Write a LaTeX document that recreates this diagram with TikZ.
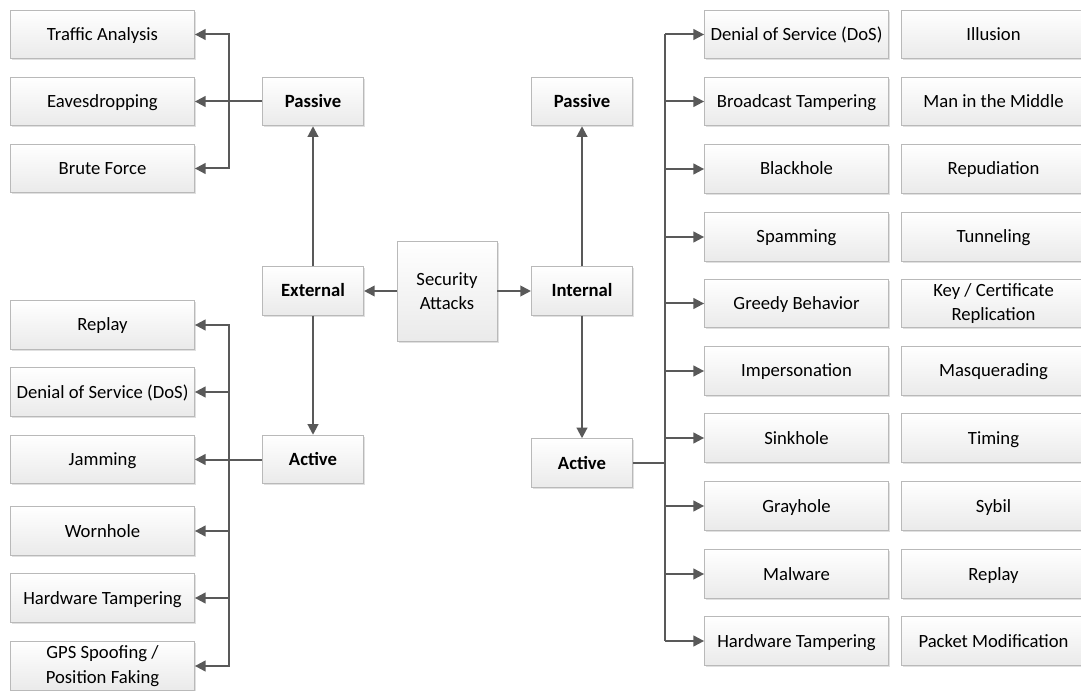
\documentclass[tikz,border=0pt]{standalone}
\usepackage{fontspec}
\setmainfont{Carlito}
\usetikzlibrary{arrows.meta,shadows}
\definecolor{linec}{RGB}{89,89,89}
\definecolor{boxb}{RGB}{185,185,185}
\definecolor{boxbot}{RGB}{234,234,234}
\tikzset{
  box/.style={draw=boxb, line width=0.6pt, top color=white, bottom color=boxbot,
    drop shadow={shadow xshift=1.2pt, shadow yshift=-1.2pt, fill=black, opacity=0.12},
    align=center, inner sep=1pt, font=\fontsize{14}{18.5}\selectfont, text=black},
  one/.style={text height=12.5pt, text depth=3.5pt},
  wide/.style={box, one, minimum width=138pt, minimum height=36.5pt},
  two/.style={box, minimum width=138pt, minimum height=36.5pt},
  mid/.style={box, one, minimum width=76pt, minimum height=36.5pt, font=\fontsize{14}{18.5}\selectfont\bfseries},
  conn/.style={draw=linec, line width=1.5pt},
  arr/.style={conn, -{Triangle[length=8pt,width=8pt]}},
  darr/.style={conn, {Triangle[length=8pt,width=8pt]}-{Triangle[length=8pt,width=8pt]}}
}
\begin{document}
\begin{tikzpicture}[x=0.75pt,y=-0.75pt]
\useasboundingbox (0,0) rectangle (1081,691);
% centre
\node[box, minimum width=75pt, minimum height=75pt] (sec) at (447,291) {Security\\Attacks};
\node[mid] (ext) at (313,291) {External};
\node[mid] (int) at (582,291) {Internal};
\node[mid] (lp) at (313,101.5) {Passive};
\node[mid] (la) at (313,459.5) {Active};
\node[mid] (rp) at (582,101.5) {Passive};
\node[mid] (ra) at (582,463) {Active};
% left passive
\node[wide] (ta) at (102.5,34.5) {Traffic Analysis};
\node[wide] (ed) at (102.5,101.5) {Eavesdropping};
\node[wide] (bf) at (102.5,168.5) {Brute Force};
% left active
\node[wide] (l1) at (102.5,325) {Replay};
\node[wide] (l2) at (102.5,392) {Denial of Service (DoS)};
\node[wide] (l3) at (102.5,459.5) {Jamming};
\node[wide] (l4) at (102.5,531) {Wornhole};
\node[wide] (l5) at (102.5,598) {Hardware Tampering};
\node[two] (l6) at (102.5,666) {GPS Spoofing /\\Position Faking};
% right column 1
\node[wide] (r1) at (796.5,34.5) {Denial of Service (DoS)};
\node[wide] (r2) at (796.5,101.5) {Broadcast Tampering};
\node[wide] (r3) at (796.5,169) {Blackhole};
\node[wide] (r4) at (796.5,237) {Spamming};
\node[wide] (r5) at (796.5,303.5) {Greedy Behavior};
\node[wide] (r6) at (796.5,371) {Impersonation};
\node[wide] (r7) at (796.5,438) {Sinkhole};
\node[wide] (r8) at (796.5,506) {Grayhole};
\node[wide] (r9) at (796.5,574) {Malware};
\node[wide] (r10) at (796.5,641) {Hardware Tampering};
% right column 2
\node[wide] (s1) at (993.5,34.5) {Illusion};
\node[wide] (s2) at (993.5,101.5) {Man in the Middle};
\node[wide] (s3) at (993.5,169) {Repudiation};
\node[wide] (s4) at (993.5,237) {Tunneling};
\node[two] (s5) at (993.5,303.5) {Key / Certificate\\Replication};
\node[wide] (s6) at (993.5,371) {Masquerading};
\node[wide] (s7) at (993.5,438) {Timing};
\node[wide] (s8) at (993.5,506) {Sybil};
\node[wide] (s9) at (993.5,574) {Replay};
\node[wide] (s10) at (993.5,641) {Packet Modification};
% bus coordinates
\coordinate (lbus) at (229,0);
\coordinate (rbus) at (665,0);
% connectors
\draw[arr] (sec.west) -- (ext.east);
\draw[arr] (sec.east) -- (int.west);
\draw[arr] (ext.north) -- (lp.south);
\draw[arr] (ext.south) -- (la.north);
\draw[arr] (int.north) -- (rp.south);
\draw[arr] (int.south) -- (ra.north);
% left passive
\draw[arr] (lp.west) -- (ed.east);
\draw[darr] (ta.east) -- (ta.east -| lbus) -- (bf.east -| lbus) -- (bf.east);
% left active
\draw[arr] (la.west) -- (l3.east);
\draw[darr] (l1.east) -- (l1.east -| lbus) -- (l6.east -| lbus) -- (l6.east);
\foreach \n in {l2,l4,l5} \draw[arr] (\n.east -| lbus) -- (\n.east);
% right active
\draw[conn] (ra.east) -- (ra.east -| rbus);
\draw[conn] (r1.west -| rbus) -- (r10.west -| rbus);
\foreach \n in {r1,r2,r3,r4,r5,r6,r7,r8,r9,r10} \draw[arr] (\n.west -| rbus) -- (\n.west);
\end{tikzpicture}
\end{document}
